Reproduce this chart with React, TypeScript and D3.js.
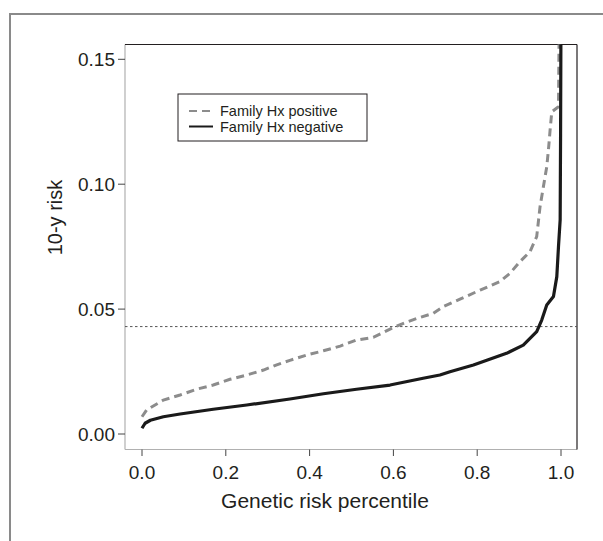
import React, { useMemo } from 'react';
import * as d3 from 'd3';

// Family Hx negative (solid black)
const negPercentile = [0.0, 0.0074, 0.02, 0.051, 0.091, 0.17, 0.25, 0.353, 0.433, 0.512, 0.592, 0.671, 0.711, 0.735, 0.791, 0.87, 0.91, 0.942, 0.954, 0.966, 0.982, 0.99, 0.994, 0.998, 0.999, 1.0];
const negRisk = [0.0023, 0.0043, 0.0055, 0.0069, 0.008, 0.0099, 0.0116, 0.014, 0.0161, 0.0179, 0.0196, 0.0223, 0.0236, 0.0249, 0.0276, 0.0323, 0.0356, 0.041, 0.0456, 0.0516, 0.055, 0.063, 0.075, 0.0857, 0.12, 0.17];

// Family Hx positive (dashed grey)
const posPercentile = [0.0, 0.011, 0.051, 0.091, 0.13, 0.17, 0.21, 0.25, 0.29, 0.32, 0.353, 0.393, 0.433, 0.473, 0.512, 0.552, 0.592, 0.624, 0.656, 0.695, 0.719, 0.759, 0.807, 0.854, 0.878, 0.902, 0.926, 0.942, 0.95, 0.966, 0.97, 0.974, 0.978, 0.994, 0.996];
const posRisk = [0.0069, 0.0096, 0.0136, 0.0156, 0.0179, 0.0196, 0.0219, 0.0236, 0.0256, 0.0276, 0.0295, 0.0316, 0.0333, 0.0352, 0.0376, 0.0387, 0.042, 0.0443, 0.0463, 0.0483, 0.051, 0.054, 0.0576, 0.061, 0.0643, 0.069, 0.073, 0.079, 0.091, 0.107, 0.1137, 0.1217, 0.129, 0.131, 0.17];

const xTicks = [0, 0.2, 0.4, 0.6, 0.8, 1.0];
const yTicks = [0, 0.05, 0.1, 0.15];
const threshold = 0.043;

const legendLabels = ['Family Hx positive', 'Family Hx negative'];

const FONT = '"Liberation Sans", Arial, Helvetica, sans-serif';
const INK = '#231f20';

const W = 603, H = 541;
const box = { left: 125, right: 577, top: 44.5, bottom: 449.5 };

const App: React.FC = () => {
  const x = d3.scaleLinear().domain([0, 1]).range([142, 561]);
  const y = d3.scaleLinear().domain([0, 0.15]).range([434, 59.3]);

  const line = d3.line<[number, number]>()
    .x(d => x(d[0]))
    .y(d => y(d[1]));

  const negPath = useMemo(() => line(negPercentile.map((p, i) => [p, negRisk[i]] as [number, number])), []);
  const posPath = useMemo(() => line(posPercentile.map((p, i) => [p, posRisk[i]] as [number, number])), []);

  return (
    <svg width={W} height={H} style={{ position: 'absolute', left: 0, top: 0, background: '#fff' }} fontFamily={FONT}>
      <defs>
        <clipPath id="plot-clip">
          <rect x={box.left} y={box.top} width={box.right - box.left} height={box.bottom - box.top} />
        </clipPath>
      </defs>

      {/* outer frame, only top and left are in view */}
      <rect x={10} y={14} width={W + 20} height={H + 20} fill="none" stroke="#8a8a8a" strokeWidth={2} />

      {/* plot box: grey on left/bottom, black on top/right */}
      <line x1={box.left} x2={box.left} y1={box.top} y2={box.bottom} stroke="#b0b0b0" strokeWidth={1.2} />
      <line x1={box.left} x2={box.right} y1={box.bottom} y2={box.bottom} stroke="#b0b0b0" strokeWidth={1.2} />
      <line x1={box.left} x2={box.right} y1={box.top} y2={box.top} stroke={INK} strokeWidth={1.2} />
      <line x1={box.right} x2={box.right} y1={box.top} y2={box.bottom} stroke={INK} strokeWidth={1.2} />

      {/* y axis */}
      {yTicks.map(t => (
        <g key={t}>
          <line x1={box.left - 7} x2={box.left} y1={y(t)} y2={y(t)} stroke="#444" strokeWidth={1} />
          <text x={box.left - 10} y={y(t)} dy="0.35em" textAnchor="end" fontSize={19} fill={INK}>{d3.format('.2f')(t)}</text>
        </g>
      ))}
      <text transform={`translate(61.5,217.5) rotate(-90)`} textAnchor="middle" fontSize={20} fill={INK}>10-y risk</text>

      {/* x axis */}
      {xTicks.map(t => (
        <g key={t}>
          <line x1={x(t)} x2={x(t)} y1={box.bottom} y2={box.bottom + 6.5} stroke="#444" strokeWidth={1} />
          <text x={x(t)} y={478.5} textAnchor="middle" fontSize={19} fill={INK}>{d3.format('.1f')(t)}</text>
        </g>
      ))}
      <text x={325} y={507.5} textAnchor="middle" fontSize={21} fill={INK}>Genetic risk percentile</text>

      {/* threshold */}
      <line x1={box.left} x2={box.right} y1={y(threshold)} y2={y(threshold)} stroke="#555" strokeWidth={1} strokeDasharray="2.5,2.5" />

      <g clipPath="url(#plot-clip)">
        <path d={posPath || ''} fill="none" stroke="#8c8c8c" strokeWidth={3} strokeDasharray="8,5" />
        <path d={negPath || ''} fill="none" stroke="#1a1a1a" strokeWidth={3.2} strokeLinejoin="round" />
      </g>

      {/* legend */}
      <rect x={178} y={94} width={189} height={47} fill="#fff" stroke={INK} strokeWidth={1} />
      <line x1={189} x2={213} y1={111} y2={111} stroke="#8c8c8c" strokeWidth={2} strokeDasharray="8,5" />
      <line x1={189} x2={213} y1={126.5} y2={126.5} stroke="#1a1a1a" strokeWidth={2} />
      <text x={220} y={115.5} fontSize={14.5} fill={INK}>{legendLabels[0]}</text>
      <text x={220} y={131.7} fontSize={14.5} fill={INK}>{legendLabels[1]}</text>
    </svg>
  );
};

export default App;
